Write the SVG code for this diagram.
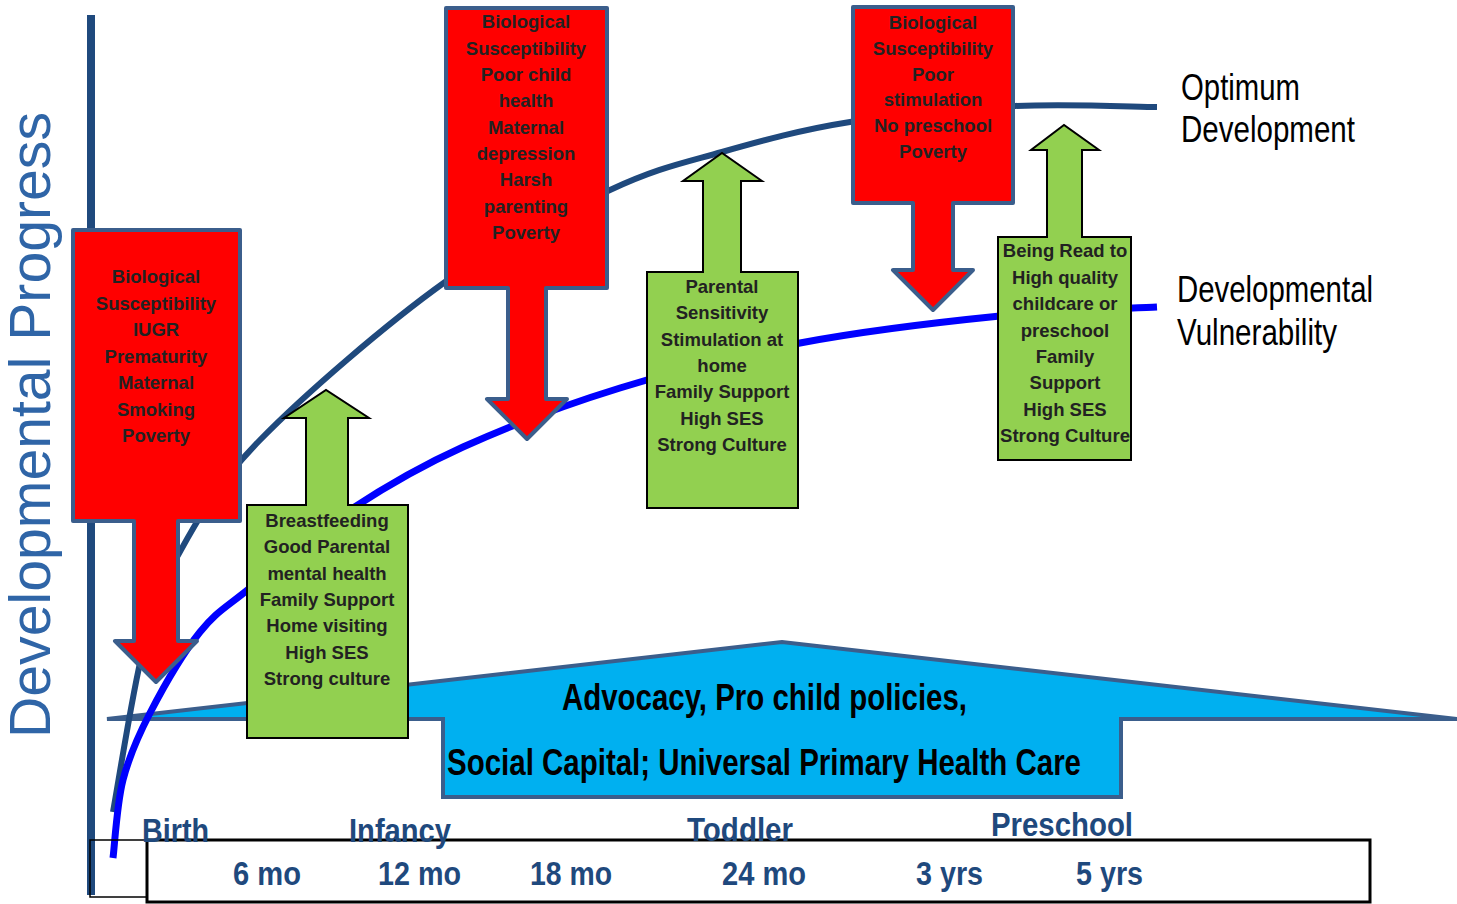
<svg xmlns="http://www.w3.org/2000/svg" width="1457" height="904" viewBox="0 0 1457 904">
  <style>
    .riskArrow { fill: #FF0000; stroke: #3B5E8C; stroke-width: 4; stroke-linejoin: round; }
    .protArrow { fill: #92D050; stroke: #000000; stroke-width: 2; stroke-linejoin: miter; }
    .boxText { font-family: "Liberation Sans", Arial, sans-serif; font-weight: bold; font-size: 18.5px; fill: #222222; text-anchor: middle; }
    .stage { font-family: "Liberation Sans Narrow", "Liberation Sans", Arial, sans-serif; font-weight: bold; font-size: 34px; fill: #1F497D; }
    .curveLabel { font-family: "Liberation Sans Narrow", "Liberation Sans", Arial, sans-serif; font-size: 36px; fill: #000000; }
    .baseText { font-family: "Liberation Sans Narrow", "Liberation Sans", Arial, sans-serif; font-weight: bold; font-size: 36px; fill: #000000; }
  </style>

  <rect x="0" y="0" width="1457" height="904" fill="#FFFFFF"/>

  <!-- vertical axis -->
  <g id="axis">
    <line x1="91" y1="15" x2="91" y2="895" stroke="#1F497D" stroke-width="8"/>
    <text transform="translate(50,738) rotate(-90)" font-family="Liberation Sans, Arial, sans-serif" font-size="57" fill="#2F65A7" textLength="626" lengthAdjust="spacingAndGlyphs">Developmental Progress</text>
  </g>

  <!-- foundation: advocacy and universal services -->
  <g id="foundation">
    <polygon points="107,719 782,642 1457,719 1121,719 1121,797 443,797 443,719" fill="#00B0F0" stroke="#3B5E8C" stroke-width="4" stroke-linejoin="miter"/>
    <text class="baseText" x="562" y="710" textLength="405" lengthAdjust="spacingAndGlyphs">Advocacy, Pro child policies,</text>
    <text class="baseText" x="447" y="775" textLength="634" lengthAdjust="spacingAndGlyphs">Social Capital; Universal Primary Health Care</text>
  </g>

  <!-- development trajectories -->
  <g id="connectors" fill="none" stroke-linecap="butt">
    <path id="optimum-curve" stroke="#1F497D" stroke-width="6"
      d="M113,812 C118,785 132.3,692.5 143,650 C153.7,607.5 157.5,592 177,557 C196.5,522 215.3,485.8 260,440 C304.7,394.2 386.7,323.7 445,282 C503.3,240.3 563.8,211.7 610,190 C656.2,168.3 682,163.3 722,152 C762,140.7 801.2,129.7 850,122 C898.8,114.3 963.8,108.5 1015,106 C1066.2,103.5 1133.3,106.8 1157,107"/>
    <path id="vulnerability-curve" stroke="#0000FF" stroke-width="7"
      d="M113,858 C114.7,845 116.8,804.2 123,780 C129.2,755.8 137.2,737.7 150,713 C162.8,688.3 183.3,652.8 200,632 C216.7,611.2 225,608.3 250,588 C275,567.7 314.5,533.5 350,510 C385.5,486.5 418,467.3 463,447 C508,426.7 563.8,405.3 620,388 C676.2,370.7 736.7,355 800,343 C863.3,331 940.5,322 1000,316 C1059.5,310 1130.8,308.5 1157,307"/>
  </g>

  <!-- curve labels -->
  <g id="label-optimum">
    <text class="curveLabel" x="1181" y="100" textLength="119" lengthAdjust="spacingAndGlyphs">Optimum</text>
    <text class="curveLabel" x="1181" y="142" textLength="174" lengthAdjust="spacingAndGlyphs">Development</text>
  </g>
  <g id="label-vulnerability">
    <text class="curveLabel" x="1177" y="302" textLength="196" lengthAdjust="spacingAndGlyphs">Developmental</text>
    <text class="curveLabel" x="1177" y="345" textLength="160" lengthAdjust="spacingAndGlyphs">Vulnerability</text>
  </g>

  <!-- risk factors (downward arrows) -->
  <g id="risk-birth">
    <path class="riskArrow" d="M73,230 L240,230 L240,521 L178,521 L178,641 L197,641 L156,682 L115,641 L134,641 L134,521 L73,521 Z"/>
    <text class="boxText" x="156" y="283">Biological</text>
    <text class="boxText" x="156" y="309.5">Susceptibility</text>
    <text class="boxText" x="156" y="336">IUGR</text>
    <text class="boxText" x="156" y="362.5">Prematurity</text>
    <text class="boxText" x="156" y="389">Maternal</text>
    <text class="boxText" x="156" y="415.5">Smoking</text>
    <text class="boxText" x="156" y="442">Poverty</text>
  </g>

  <g id="risk-infancy">
    <path class="riskArrow" d="M446,8 L607,8 L607,288 L546,288 L546,399 L567,399 L527,439 L487,399 L508,399 L508,288 L446,288 Z"/>
    <text class="boxText" x="526" y="28">Biological</text>
    <text class="boxText" x="526" y="54.5">Susceptibility</text>
    <text class="boxText" x="526" y="80.5">Poor child</text>
    <text class="boxText" x="526" y="107">health</text>
    <text class="boxText" x="526" y="133.5">Maternal</text>
    <text class="boxText" x="526" y="160">depression</text>
    <text class="boxText" x="526" y="186">Harsh</text>
    <text class="boxText" x="526" y="212.5">parenting</text>
    <text class="boxText" x="526" y="239">Poverty</text>
  </g>

  <g id="risk-preschool">
    <path class="riskArrow" d="M853,7 L1013,7 L1013,203 L953,203 L953,270 L973,270 L933,310 L893,270 L913,270 L913,203 L853,203 Z"/>
    <text class="boxText" x="933" y="29">Biological</text>
    <text class="boxText" x="933" y="55">Susceptibility</text>
    <text class="boxText" x="933" y="80.5">Poor</text>
    <text class="boxText" x="933" y="106">stimulation</text>
    <text class="boxText" x="933" y="132">No preschool</text>
    <text class="boxText" x="933" y="158">Poverty</text>
  </g>

  <!-- protective factors (upward arrows) -->
  <g id="protect-infancy">
    <path class="protArrow" d="M247,505 L306,505 L306,418 L284,418 L326,390 L369,418 L348,418 L348,505 L408,505 L408,738 L247,738 Z"/>
    <text class="boxText" x="327" y="527">Breastfeeding</text>
    <text class="boxText" x="327" y="553">Good Parental</text>
    <text class="boxText" x="327" y="580">mental health</text>
    <text class="boxText" x="327" y="606">Family Support</text>
    <text class="boxText" x="327" y="632">Home visiting</text>
    <text class="boxText" x="327" y="659">High SES</text>
    <text class="boxText" x="327" y="685">Strong culture</text>
  </g>

  <g id="protect-toddler">
    <path class="protArrow" d="M647,272 L703,272 L703,181 L683,181 L722,153 L762,181 L741,181 L741,272 L798,272 L798,508 L647,508 Z"/>
    <text class="boxText" x="722" y="293">Parental</text>
    <text class="boxText" x="722" y="319">Sensitivity</text>
    <text class="boxText" x="722" y="346">Stimulation at</text>
    <text class="boxText" x="722" y="372">home</text>
    <text class="boxText" x="722" y="398">Family Support</text>
    <text class="boxText" x="722" y="425">High SES</text>
    <text class="boxText" x="722" y="451">Strong Culture</text>
  </g>

  <g id="protect-preschool">
    <path class="protArrow" d="M998,237 L1047,237 L1047,150 L1031,150 L1064,125 L1099,150 L1082,150 L1082,237 L1131,237 L1131,460 L998,460 Z"/>
    <text class="boxText" x="1065" y="257">Being Read to</text>
    <text class="boxText" x="1065" y="284">High quality</text>
    <text class="boxText" x="1065" y="310">childcare or</text>
    <text class="boxText" x="1065" y="337">preschool</text>
    <text class="boxText" x="1065" y="363">Family</text>
    <text class="boxText" x="1065" y="389">Support</text>
    <text class="boxText" x="1065" y="416">High SES</text>
    <text class="boxText" x="1065" y="442" textLength="130" lengthAdjust="spacingAndGlyphs">Strong Culture</text>
  </g>

  <!-- time axis -->
  <g id="timeline">
    <rect x="90" y="840" width="57" height="57" fill="none" stroke="#000000" stroke-width="1.5"/>
    <rect x="147" y="840" width="1223" height="62" fill="#FFFFFF" stroke="#000000" stroke-width="3"/>
    <text class="stage" x="142" y="842" textLength="67" lengthAdjust="spacingAndGlyphs">Birth</text>
    <text class="stage" x="349" y="842" textLength="102" lengthAdjust="spacingAndGlyphs">Infancy</text>
    <text class="stage" x="687" y="841" textLength="106" lengthAdjust="spacingAndGlyphs">Toddler</text>
    <text class="stage" x="991" y="836" textLength="142" lengthAdjust="spacingAndGlyphs">Preschool</text>
    <text class="stage" x="233" y="885" textLength="68" lengthAdjust="spacingAndGlyphs">6 mo</text>
    <text class="stage" x="378" y="885" textLength="83" lengthAdjust="spacingAndGlyphs">12 mo</text>
    <text class="stage" x="530" y="885" textLength="82" lengthAdjust="spacingAndGlyphs">18 mo</text>
    <text class="stage" x="722" y="885" textLength="84" lengthAdjust="spacingAndGlyphs">24 mo</text>
    <text class="stage" x="916" y="885" textLength="67" lengthAdjust="spacingAndGlyphs">3 yrs</text>
    <text class="stage" x="1076" y="885" textLength="67" lengthAdjust="spacingAndGlyphs">5 yrs</text>
  </g>
</svg>
